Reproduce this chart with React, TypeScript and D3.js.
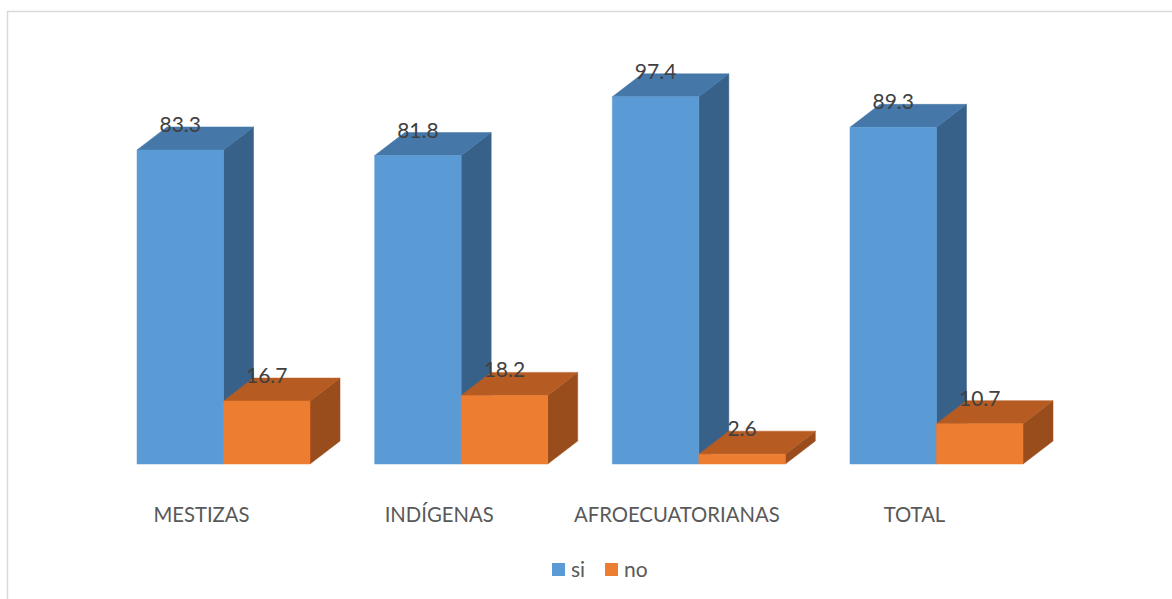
import React from "react";
import * as d3 from "d3";

// Share of responses per population group (percent)
const categories = ["MESTIZAS", "INDÍGENAS", "AFROECUATORIANAS", "TOTAL"];
const seriesNames = ["si", "no"];
const siValues = [83.3, 81.8, 97.4, 89.3];
const noValues = [16.7, 18.2, 2.6, 10.7];

const W = 1172;
const H = 599;
const DX = 30; // depth offset of the 3D extrusion
const DY = 23;
const FONT = "Lato, 'Open Sans', sans-serif";

const faces = {
  si: { front: "#5B9BD5", top: "#4577A8", side: "#386189" },
  no: { front: "#ED7D31", top: "#B65C22", side: "#9A4D1C" },
};

export default function App() {
  const x = d3.scaleBand<string>().domain(categories).range([137, 1023]).paddingInner(0.272).paddingOuter(0);
  const xs = d3.scaleBand<string>().domain(seriesNames).range([0, x.bandwidth()]);
  const y = d3.scaleLinear().domain([0, 100]).range([464, 87]);

  const values: Record<string, number[]> = { si: siValues, no: noValues };

  const bars: React.ReactNode[] = [];
  const labels: React.ReactNode[] = [];
  categories.forEach((cat, i) => {
    seriesNames.forEach((s) => {
      const v = values[s][i];
      const x0 = (x(cat) as number) + (xs(s) as number);
      const x1 = x0 + xs.bandwidth();
      const y0 = y(0);
      const y1 = y(v);
      const c = (faces as any)[s];
      const front = `M${x0},${y1}L${x1},${y1}L${x1},${y0}L${x0},${y0}Z`;
      const side = `M${x1},${y1}L${x1 + DX},${y1 - DY}L${x1 + DX},${y0 - DY}L${x1},${y0}Z`;
      const top = `M${x0},${y1}L${x0 + DX},${y1 - DY}L${x1 + DX},${y1 - DY}L${x1},${y1}Z`;
      bars.push(
        <g key={`${cat}-${s}`}>
          <path d={side} fill={c.side} stroke={c.side} strokeWidth={0.5} />
          <path d={top} fill={c.top} stroke={c.top} strokeWidth={0.5} />
          <path d={front} fill={c.front} stroke={c.front} strokeWidth={0.5} />
        </g>
      );
      labels.push(
        <text
          key={`lab-${cat}-${s}`}
          x={(x0 + x1) / 2}
          y={y1 - 18}
          textAnchor="middle"
          fontFamily={FONT}
          fontSize={21}
          fill="#404040"
        >
          {v.toFixed(1)}
        </text>
      );
    });
  });

  // Series are drawn left-to-right per group so the orange bars overlap the blue sides
  return (
    <svg
      width={W}
      height={H}
      style={{ position: "absolute", left: 0, top: 0, background: "#fff" }}
    >
      <rect x={7.5} y={11.5} width={W + 20} height={H + 20} fill="#fff" stroke="#D9D9D9" strokeWidth={1.5} />
      {bars}
      {labels}
      {categories.map((cat) => (
        <text
          key={cat}
          x={(x(cat) as number) + x.bandwidth() / 2 - 22}
          y={522}
          textAnchor="middle"
          fontFamily={FONT}
          fontSize={20.3}
          fill="#595959"
        >
          {cat}
        </text>
      ))}
      <g fontFamily={FONT} fontSize={21} fill="#595959">
        <rect x={552} y={563} width={13} height={13} fill={faces.si.front} />
        <text x={571} y={577}>si</text>
        <rect x={605} y={563} width={13} height={13} fill={faces.no.front} />
        <text x={624} y={577}>no</text>
      </g>
    </svg>
  );
}
